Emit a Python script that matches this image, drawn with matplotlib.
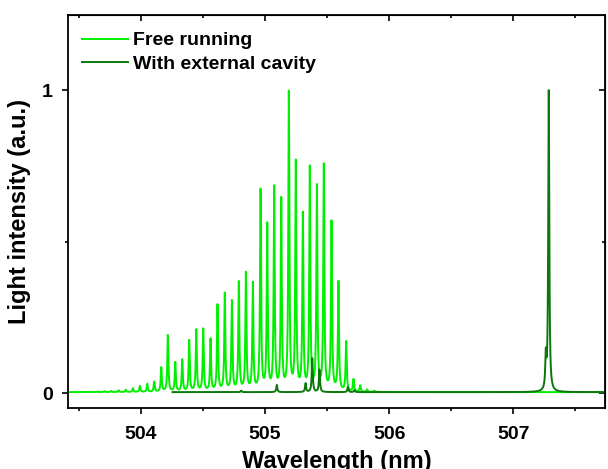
#!/usr/bin/env python
"""Free running vs external cavity laser diode spectrum."""
import numpy as np
import matplotlib.pyplot as plt
from matplotlib.ticker import MultipleLocator

plt.rcParams["font.family"] = ["Liberation Sans", "DejaVu Sans"]
plt.rcParams["font.weight"] = "bold"

# Free running: longitudinal mode centres (nm) and peak heights (a.u.)
FREE_CENTRES = [
    503.536, 503.593, 503.650, 503.706, 503.760, 503.819, 503.877, 503.934,
    503.990, 504.050, 504.106, 504.163, 504.216, 504.276, 504.332, 504.388,
    504.445, 504.501, 504.560, 504.616, 504.675, 504.732, 504.788, 504.845,
    504.901, 504.963, 505.017, 505.073, 505.130, 505.191, 505.247, 505.304,
    505.360, 505.417, 505.473, 505.535, 505.591, 505.653, 505.712, 505.766,
    505.822, 505.880,
]
FREE_HEIGHTS = [
    0.003, 0.004, 0.005, 0.006, 0.007, 0.009, 0.011, 0.016,
    0.024, 0.031, 0.038, 0.086, 0.192, 0.103, 0.112, 0.176,
    0.211, 0.214, 0.181, 0.294, 0.332, 0.308, 0.370, 0.401,
    0.368, 0.676, 0.564, 0.686, 0.648, 1.000, 0.771, 0.599,
    0.752, 0.690, 0.760, 0.571, 0.371, 0.172, 0.047, 0.026,
    0.012, 0.008,
]
FREE_RANGE = (503.41, 507.74)

# With external cavity: residual modes and the locked line
CAV_CENTRES = [504.807, 505.094, 505.326, 505.380, 505.438, 505.667, 505.720,
               507.262, 507.286]
CAV_HEIGHTS = [0.008, 0.027, 0.033, 0.115, 0.078, 0.020, 0.010, 0.150, 1.000]
CAV_RANGE = (504.254, 507.74)

BASELINE = 0.003
HWHM = 0.005  # mode half width, nm


def lorentz(x, x0):
    return HWHM ** 2 / (HWHM ** 2 + (x - x0) ** 2)


def spectrum(x, centres, heights):
    """Sum of Lorentzian lines whose maxima sit at the read heights."""
    centres = np.asarray(centres)
    heights = np.asarray(heights) - BASELINE
    mat = lorentz(centres[:, None], centres[None, :])
    amps = np.linalg.solve(mat, heights)
    return BASELINE + (amps[None, :] * lorentz(x[:, None], centres[None, :])).sum(axis=1)


x_free = np.linspace(*FREE_RANGE, 9000)
x_cav = np.linspace(*CAV_RANGE, 8000)
y_free = spectrum(x_free, FREE_CENTRES, FREE_HEIGHTS)
y_cav = spectrum(x_cav, CAV_CENTRES, CAV_HEIGHTS)

fig = plt.figure(figsize=(6.08, 4.69), dpi=100)
ax = fig.add_axes([0.112, 0.130, 0.883, 0.838])

ax.plot(x_free, y_free, color="#00F000", linewidth=1.4, label="Free running")
ax.plot(x_cav, y_cav, color="#0A780A", linewidth=1.4, label="With external cavity")

ax.set_xlim(503.412, 507.739)
ax.set_ylim(-0.0495, 1.2475)
ax.xaxis.set_major_locator(MultipleLocator(1))
ax.xaxis.set_minor_locator(MultipleLocator(0.5))
ax.yaxis.set_major_locator(MultipleLocator(1))
ax.yaxis.set_minor_locator(MultipleLocator(0.5))

for side in ax.spines.values():
    side.set_linewidth(1.3)
ax.tick_params(which="both", direction="out", labelsize=14, width=1.2)
ax.tick_params(which="major", length=4.5)
ax.tick_params(which="minor", length=2.5)
ax.tick_params(axis="x", which="major", pad=8.5)
ax.tick_params(axis="y", which="major", pad=6.4)

# mirrored inward ticks on top and right
top = ax.secondary_xaxis("top")
top.xaxis.set_major_locator(MultipleLocator(1))
top.xaxis.set_minor_locator(MultipleLocator(0.5))
top.tick_params(which="both", direction="in", labeltop=False, width=1.2)
top.tick_params(which="major", length=4.5)
top.tick_params(which="minor", length=2.5)
right = ax.secondary_yaxis("right")
right.yaxis.set_major_locator(MultipleLocator(1))
right.yaxis.set_minor_locator(MultipleLocator(0.5))
right.tick_params(which="both", direction="in", labelright=False, width=1.2)
right.tick_params(which="major", length=4.5)
right.tick_params(which="minor", length=2.5)

ax.set_xlabel("Wavelength (nm)", fontsize=17, fontweight="bold", labelpad=5)
ax.set_ylabel("Light intensity (a.u.)", fontsize=17, fontweight="bold", labelpad=8)

ax.legend(loc="upper left", bbox_to_anchor=(0.0106, 0.977), frameon=False,
          handlelength=2.37, handletextpad=0.3, borderaxespad=0.0,
          labelspacing=0.32, prop={"weight": "bold", "size": 14})

fig.savefig("out.png", dpi=100)
